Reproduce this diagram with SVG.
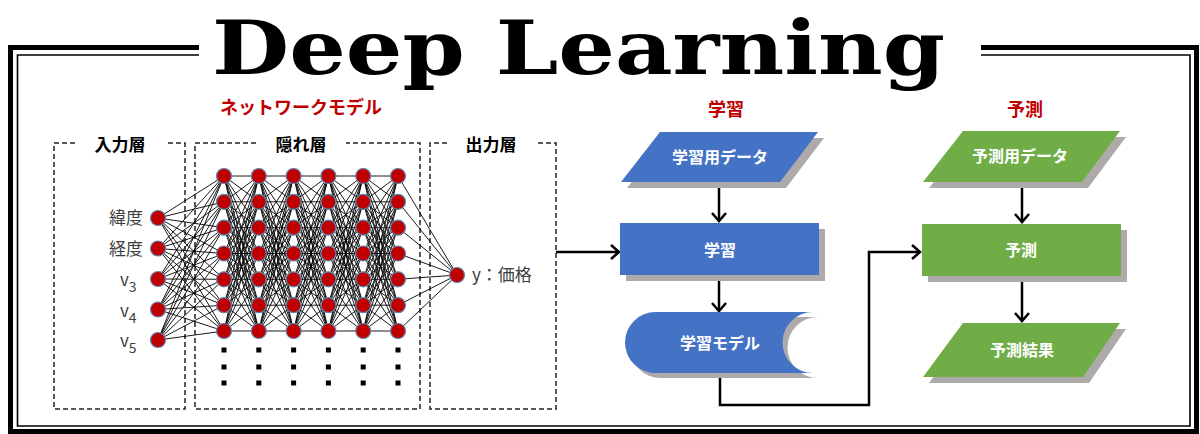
<svg xmlns="http://www.w3.org/2000/svg" xmlns:xlink="http://www.w3.org/1999/xlink" width="1200" height="434" viewBox="0 0 1200 434">
<style>
.frame{fill:none;stroke:#000}
.dash{fill:none;stroke:#222;stroke-width:1.5;stroke-dasharray:5 3}
.lbl{font-family:"Noto Sans CJK JP","Noto Sans",sans-serif;font-weight:bold;font-size:17px;fill:#000;text-anchor:middle}
.red{font-family:"Noto Sans CJK JP","Noto Sans",sans-serif;font-weight:bold;font-size:18px;fill:#C00000}
.in{font-family:"Noto Sans CJK JP","Noto Sans",sans-serif;font-size:17px;fill:#404040}
.box{font-family:"Noto Sans CJK JP","Noto Sans",sans-serif;font-weight:bold;font-size:16px;fill:#fff;text-anchor:middle}
.neu{fill:#C00000;stroke:#5B86B0;stroke-width:1.2}
.syn{fill:none;stroke:#000;stroke-width:0.9}
.flow{fill:none;stroke:#000;stroke-width:2.5}
.sh{fill:#AEAAAA}
.blue{fill:#4472C4}
.green{fill:#70AD47}
.dot{fill:#000}
</style>
<defs>
<marker id="arr" markerUnits="userSpaceOnUse" markerWidth="20" markerHeight="20" viewBox="-10 -10 20 20" refX="0" refY="0" orient="auto">
<path d="M-8,-7 L0,0 L-8,7" fill="none" stroke="#000" stroke-width="2.5"/>
</marker>
<path id="gap" class="syn" d="M0 176L34.8 176M0 176L34.8 201.8M0 176L34.8 227.7M0 176L34.8 253.5M0 176L34.8 279.3M0 176L34.8 305.2M0 176L34.8 331M0 201.8L34.8 176M0 201.8L34.8 201.8M0 201.8L34.8 227.7M0 201.8L34.8 253.5M0 201.8L34.8 279.3M0 201.8L34.8 305.2M0 201.8L34.8 331M0 227.7L34.8 176M0 227.7L34.8 201.8M0 227.7L34.8 227.7M0 227.7L34.8 253.5M0 227.7L34.8 279.3M0 227.7L34.8 305.2M0 227.7L34.8 331M0 253.5L34.8 176M0 253.5L34.8 201.8M0 253.5L34.8 227.7M0 253.5L34.8 253.5M0 253.5L34.8 279.3M0 253.5L34.8 305.2M0 253.5L34.8 331M0 279.3L34.8 176M0 279.3L34.8 201.8M0 279.3L34.8 227.7M0 279.3L34.8 253.5M0 279.3L34.8 279.3M0 279.3L34.8 305.2M0 279.3L34.8 331M0 305.2L34.8 176M0 305.2L34.8 201.8M0 305.2L34.8 227.7M0 305.2L34.8 253.5M0 305.2L34.8 279.3M0 305.2L34.8 305.2M0 305.2L34.8 331M0 331L34.8 176M0 331L34.8 201.8M0 331L34.8 227.7M0 331L34.8 253.5M0 331L34.8 279.3M0 331L34.8 305.2M0 331L34.8 331"/>
</defs>

<g id="frame">
<path class="frame" stroke-width="5" d="M199 47.5H10.5V431.5H1196.5V47.5H981"/>
<path class="frame" stroke-width="1.6" d="M199 55H17.5V426H1190V55H981"/>
</g>

<g id="title">
<text x="212" y="74" font-family="DejaVu Serif, serif" font-weight="bold" font-size="74" textLength="733" lengthAdjust="spacingAndGlyphs" fill="#000">Deep Learning</text>
</g>

<g id="section-labels">
<text class="red" x="220" y="114">ネットワークモデル</text>
<text class="red" x="726" y="116" text-anchor="middle">学習</text>
<text class="red" x="1025" y="116" text-anchor="middle">予測</text>
</g>

<g id="layer-boxes">
<g id="input-box"><path class="dash" d="M75 143H54V409H185V143H165"/><text class="lbl" x="120" y="151">入力層</text></g>
<g id="hidden-box"><path class="dash" d="M256 143H195V409H420V143H346"/><text class="lbl" x="301" y="151">隠れ層</text></g>
<g id="output-box"><path class="dash" d="M447 143H430V409H556V143H535"/><text class="lbl" x="491" y="151">出力層</text></g>
</g>

<g id="connectors">
<path class="syn" d="M158 218L224 176M158 218L224 201.8M158 218L224 227.7M158 218L224 253.5M158 218L224 279.3M158 218L224 305.2M158 218L224 331M158 248.5L224 176M158 248.5L224 201.8M158 248.5L224 227.7M158 248.5L224 253.5M158 248.5L224 279.3M158 248.5L224 305.2M158 248.5L224 331M158 279L224 176M158 279L224 201.8M158 279L224 227.7M158 279L224 253.5M158 279L224 279.3M158 279L224 305.2M158 279L224 331M158 309.5L224 176M158 309.5L224 201.8M158 309.5L224 227.7M158 309.5L224 253.5M158 309.5L224 279.3M158 309.5L224 305.2M158 309.5L224 331M158 340L224 176M158 340L224 201.8M158 340L224 227.7M158 340L224 253.5M158 340L224 279.3M158 340L224 305.2M158 340L224 331"/>
<use xlink:href="#gap" href="#gap" transform="translate(224,0)"/>
<use xlink:href="#gap" href="#gap" transform="translate(258.8,0)"/>
<use xlink:href="#gap" href="#gap" transform="translate(293.6,0)"/>
<use xlink:href="#gap" href="#gap" transform="translate(328.4,0)"/>
<use xlink:href="#gap" href="#gap" transform="translate(363.2,0)"/>
<path class="syn" d="M398 176L457 275M398 201.8L457 275M398 227.7L457 275M398 253.5L457 275M398 279.3L457 275M398 305.2L457 275M398 331L457 275"/>
<path class="flow" d="M556 252H619" marker-end="url(#arr)"/>
<path class="flow" d="M719 182V221" marker-end="url(#arr)"/>
<path class="flow" d="M719 276V311" marker-end="url(#arr)"/>
<path class="flow" d="M720 373V405H869V252H920" marker-end="url(#arr)"/>
<path class="flow" d="M1022 182V222" marker-end="url(#arr)"/>
<path class="flow" d="M1022 277V321" marker-end="url(#arr)"/>
</g>

<g id="input-layer">
<g id="in1"><circle class="neu" cx="158" cy="218" r="7.5"/><text class="in" x="143" y="224" text-anchor="end">緯度</text></g>
<g id="in2"><circle class="neu" cx="158" cy="248.5" r="7.5"/><text class="in" x="143" y="255" text-anchor="end">経度</text></g>
<g id="in3"><circle class="neu" cx="158" cy="279" r="7.5"/><text class="in" x="120" y="286" font-size="21">v<tspan font-size="14" dy="6">3</tspan></text></g>
<g id="in4"><circle class="neu" cx="158" cy="309.5" r="7.5"/><text class="in" x="120" y="317" font-size="21">v<tspan font-size="14" dy="6">4</tspan></text></g>
<g id="in5"><circle class="neu" cx="158" cy="340" r="7.5"/><text class="in" x="120" y="347" font-size="21">v<tspan font-size="14" dy="6">5</tspan></text></g>
</g>

<g id="hidden-layer">
<g id="h1"><circle class="neu" cx="224" cy="176" r="7.5"/><circle class="neu" cx="224" cy="201.8" r="7.5"/><circle class="neu" cx="224" cy="227.7" r="7.5"/><circle class="neu" cx="224" cy="253.5" r="7.5"/><circle class="neu" cx="224" cy="279.3" r="7.5"/><circle class="neu" cx="224" cy="305.2" r="7.5"/><circle class="neu" cx="224" cy="331" r="7.5"/></g>
<g id="h2"><circle class="neu" cx="258.8" cy="176" r="7.5"/><circle class="neu" cx="258.8" cy="201.8" r="7.5"/><circle class="neu" cx="258.8" cy="227.7" r="7.5"/><circle class="neu" cx="258.8" cy="253.5" r="7.5"/><circle class="neu" cx="258.8" cy="279.3" r="7.5"/><circle class="neu" cx="258.8" cy="305.2" r="7.5"/><circle class="neu" cx="258.8" cy="331" r="7.5"/></g>
<g id="h3"><circle class="neu" cx="293.6" cy="176" r="7.5"/><circle class="neu" cx="293.6" cy="201.8" r="7.5"/><circle class="neu" cx="293.6" cy="227.7" r="7.5"/><circle class="neu" cx="293.6" cy="253.5" r="7.5"/><circle class="neu" cx="293.6" cy="279.3" r="7.5"/><circle class="neu" cx="293.6" cy="305.2" r="7.5"/><circle class="neu" cx="293.6" cy="331" r="7.5"/></g>
<g id="h4"><circle class="neu" cx="328.4" cy="176" r="7.5"/><circle class="neu" cx="328.4" cy="201.8" r="7.5"/><circle class="neu" cx="328.4" cy="227.7" r="7.5"/><circle class="neu" cx="328.4" cy="253.5" r="7.5"/><circle class="neu" cx="328.4" cy="279.3" r="7.5"/><circle class="neu" cx="328.4" cy="305.2" r="7.5"/><circle class="neu" cx="328.4" cy="331" r="7.5"/></g>
<g id="h5"><circle class="neu" cx="363.2" cy="176" r="7.5"/><circle class="neu" cx="363.2" cy="201.8" r="7.5"/><circle class="neu" cx="363.2" cy="227.7" r="7.5"/><circle class="neu" cx="363.2" cy="253.5" r="7.5"/><circle class="neu" cx="363.2" cy="279.3" r="7.5"/><circle class="neu" cx="363.2" cy="305.2" r="7.5"/><circle class="neu" cx="363.2" cy="331" r="7.5"/></g>
<g id="h6"><circle class="neu" cx="398" cy="176" r="7.5"/><circle class="neu" cx="398" cy="201.8" r="7.5"/><circle class="neu" cx="398" cy="227.7" r="7.5"/><circle class="neu" cx="398" cy="253.5" r="7.5"/><circle class="neu" cx="398" cy="279.3" r="7.5"/><circle class="neu" cx="398" cy="305.2" r="7.5"/><circle class="neu" cx="398" cy="331" r="7.5"/></g>
<g id="ellipsis">
<rect class="dot" x="221.5" y="347.5" width="5" height="5"/><rect class="dot" x="221.5" y="364.5" width="5" height="5"/><rect class="dot" x="221.5" y="380.5" width="5" height="5"/>
<rect class="dot" x="256.3" y="347.5" width="5" height="5"/><rect class="dot" x="256.3" y="364.5" width="5" height="5"/><rect class="dot" x="256.3" y="380.5" width="5" height="5"/>
<rect class="dot" x="291.1" y="347.5" width="5" height="5"/><rect class="dot" x="291.1" y="364.5" width="5" height="5"/><rect class="dot" x="291.1" y="380.5" width="5" height="5"/>
<rect class="dot" x="325.9" y="347.5" width="5" height="5"/><rect class="dot" x="325.9" y="364.5" width="5" height="5"/><rect class="dot" x="325.9" y="380.5" width="5" height="5"/>
<rect class="dot" x="360.7" y="347.5" width="5" height="5"/><rect class="dot" x="360.7" y="364.5" width="5" height="5"/><rect class="dot" x="360.7" y="380.5" width="5" height="5"/>
<rect class="dot" x="395.5" y="347.5" width="5" height="5"/><rect class="dot" x="395.5" y="364.5" width="5" height="5"/><rect class="dot" x="395.5" y="380.5" width="5" height="5"/>
</g>
</g>

<g id="output-layer">
<g id="out"><circle class="neu" cx="457" cy="275" r="7.5"/><text class="in" x="472" y="281">y：価格</text></g>
</g>

<g id="learn-data">
<polygon class="sh" points="666,138 824,138 786,188 627,188"/>
<polygon class="blue" points="660,132 818,132 780,182 621,182"/>
<text class="box" x="720" y="163">学習用データ</text>
</g>
<g id="learn">
<rect class="sh" x="626" y="229" width="199" height="52"/>
<rect class="blue" x="620" y="223" width="199" height="52"/>
<text class="box" x="720" y="256" font-size="17">学習</text>
</g>
<g id="learn-model">
<path class="sh" d="M660.5 317H818A30.5 30.5 0 0 0 818 378H660.5A30.5 30.5 0 0 1 660.5 317Z"/>
<path class="blue" d="M655.5 312H813A30.5 30.5 0 0 0 813 373H655.5A30.5 30.5 0 0 1 655.5 312Z"/>
<text class="box" x="720" y="349">学習モデル</text>
</g>

<g id="predict-data">
<polygon class="sh" points="969,137 1126,137 1088,188 929,188"/>
<polygon class="green" points="963,131 1120,131 1082,182 923,182"/>
<text class="box" x="1020" y="162">予測用データ</text>
</g>
<g id="predict">
<rect class="sh" x="928" y="230" width="199" height="52"/>
<rect class="green" x="922" y="224" width="199" height="52"/>
<text class="box" x="1021" y="256" font-size="17">予測</text>
</g>
<g id="predict-result">
<polygon class="sh" points="969,329 1126,329 1089,383 929,383"/>
<polygon class="green" points="963,323 1120,323 1083,377 923,377"/>
<text class="box" x="1022" y="356">予測結果</text>
</g>
</svg>
